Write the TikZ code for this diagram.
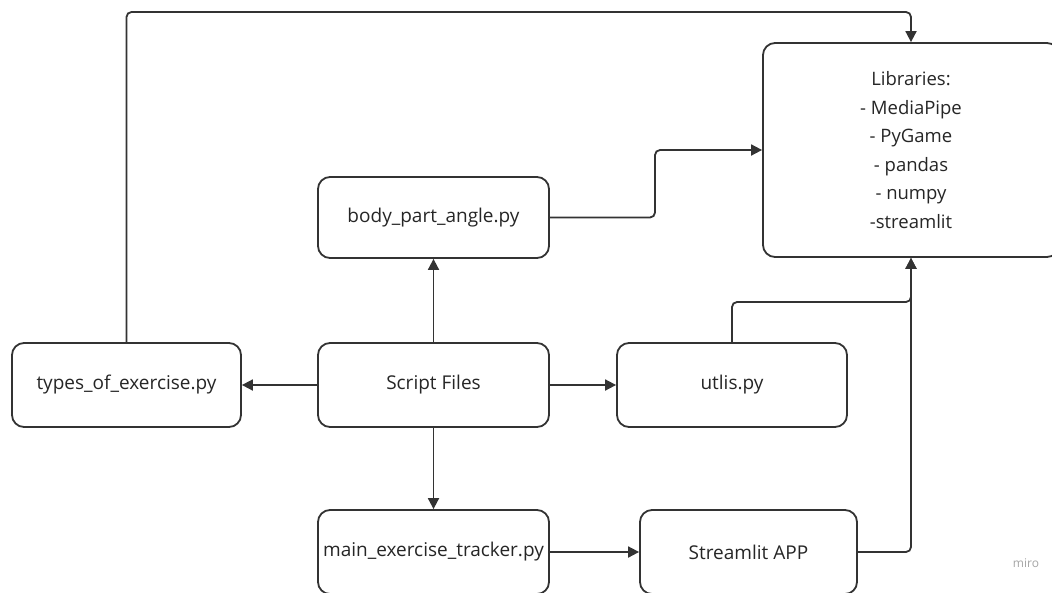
\documentclass[tikz,border=0pt]{standalone}
\usepackage{fontspec}
\setmainfont{Open Sans}
\usetikzlibrary{arrows.meta}
\begin{document}
\begin{tikzpicture}[x=1pt,y=-1pt,
 box/.style={draw=black!80, line width=1.8pt, rounded corners=12pt, minimum height=84pt, font=\fontsize{19}{22}\selectfont, text=black!85, inner sep=0pt},
 conn/.style={draw=black!80, line width=1.8pt, rounded corners=5pt, -{Triangle[length=11pt,width=11pt]}}]
\clip (0,0) rectangle (1052,592);
\fill[white] (0,0) rectangle (1052,592);
\node[box, minimum width=229pt] (types) at (126.5,385) {types\_of\_exercise.py};
\node[box, minimum width=231pt, minimum height=81pt] (body) at (433.5,217.5) {body\_part\_angle.py};
\node[box, minimum width=231pt] (script) at (433.5,385) {Script Files};
\node[box, minimum width=230pt] (utlis) at (732,385) {utlis.py};
\node[box, minimum width=231pt] (main) at (433.5,552) {main\_exercise\_tracker.py};
\node[box, minimum width=217pt] (app) at (748.5,552) {Streamlit APP};
\node[box, minimum width=296pt, minimum height=214pt, align=center, font=\fontsize{18.5}{28.6}\selectfont] (libs) at (911,150) {Libraries:\\- MediaPipe\\- PyGame\\- pandas\\- numpy\\-streamlit};
\node[text=black!35, font=\fontsize{12}{14}\selectfont] (miro) at (1026,563) {miro};
\coordinate (top) at (126.5,12);
\coordinate (bj) at (655,217.5);
\coordinate (uj) at (732,302);
\draw[conn] (types.north) -- (top) -| (libs.north);
\draw[conn] (body.east) -- (bj) |- (libs.west);
\draw[conn] (utlis.north) -- (uj) -| (libs.south);
\draw[conn] (app.east) -| (libs.south);
\draw[conn] (script.west) -- (types.east);
\draw[conn] (script.east) -- (utlis.west);
\draw[conn] (script.north) -- (body.south);
\draw[conn] (script.south) -- (main.north);
\draw[conn] (main.east) -- (app.west);
\end{tikzpicture}
\end{document}
